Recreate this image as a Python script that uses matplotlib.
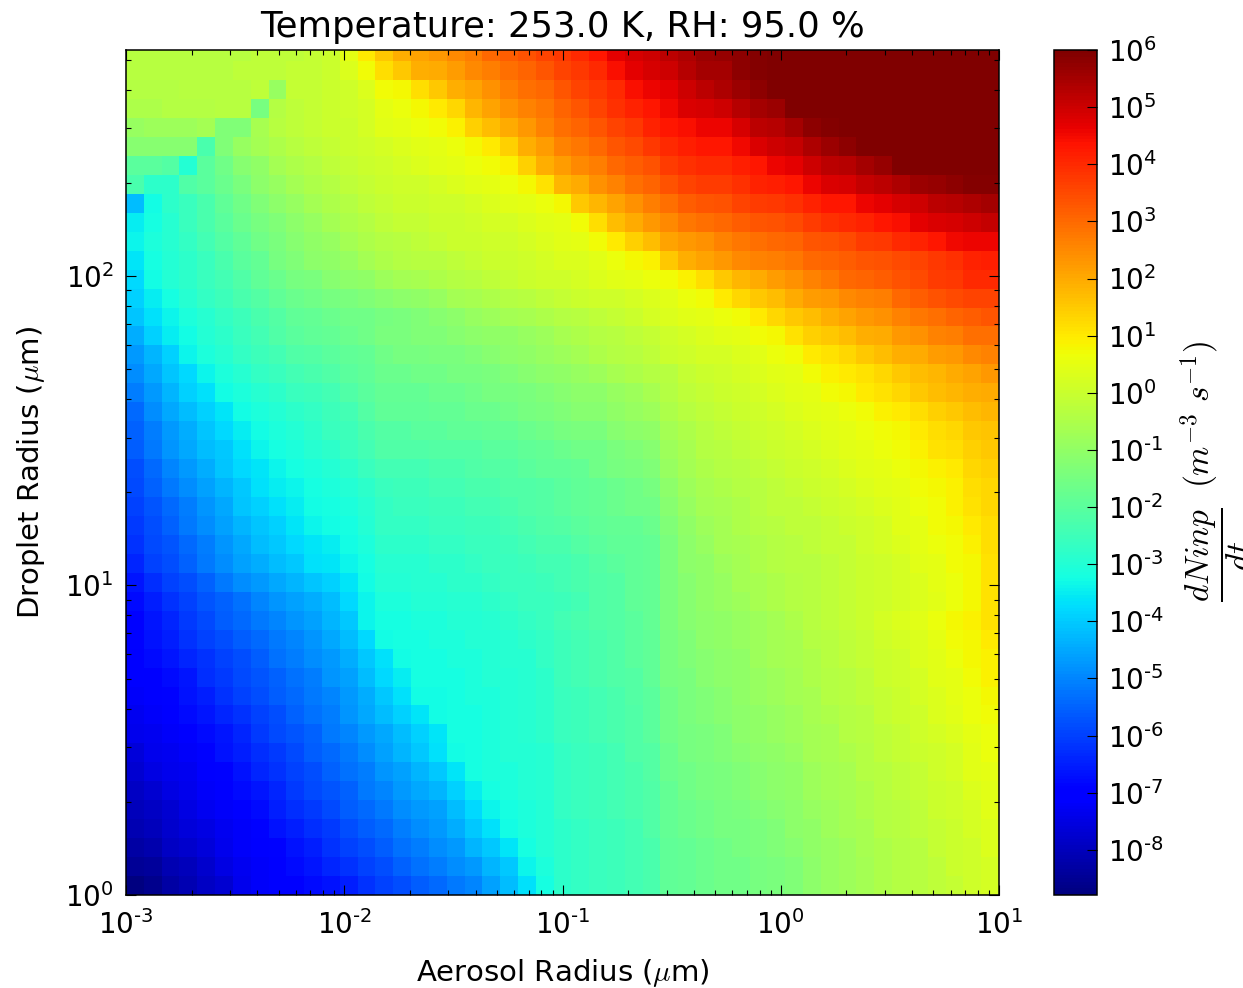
#!/usr/bin/python3

import matplotlib
matplotlib.use('Agg')
import matplotlib.pyplot as plt
from matplotlib.colors import LogNorm
import numpy as np

title = 'Temperature: 253.0 K, RH: 95.0 %'
x_ticks = [1e-3, 1e-2, 1e-1, 1e0, 1e1]
y_ticks = [1e0, 1e1, 1e2]
x_tick_labels = [r'$\mathdefault{10^{\text{-}3}}$', r'$\mathdefault{10^{\text{-}2}}$',
                 r'$\mathdefault{10^{\text{-}1}}$', r'$\mathdefault{10^{0}}$', r'$\mathdefault{10^{1}}$']
y_tick_labels = [r'$\mathdefault{10^{0}}$', r'$\mathdefault{10^{1}}$', r'$\mathdefault{10^{2}}$']
cbar_exponents = [-8, -7, -6, -5, -4, -3, -2, -1, 0, 1, 2, 3, 4, 5, 6]

# cell edges of the grid (49 x 49 cells, y axis cut at 537)
aerosol_edges = np.logspace(-3, 1, 50)
droplet_edges = np.logspace(0, 3, 50)[:46]

# log10 of the rate x 10, one row per droplet bin, bottom row first
k00 = [-88,-86,-83,-81,-79,-77,-74,-72,-71,-70,-68,-67,-65,-62,-60,-58,-56,-54,-52,-50,-46,-42,-37,-32,-28,-27,-26,-25,-24,-23,-19,-18,-17,-16,-16,-15,-14,-13,-11,-9,-8,-7,-5,-4,-3,-2,-1,1,2]
k01 = [-85,-84,-81,-80,-78,-75,-73,-72,-70,-68,-66,-64,-62,-60,-58,-55,-53,-51,-49,-47,-43,-40,-34,-31,-28,-27,-26,-25,-24,-23,-19,-18,-17,-16,-16,-15,-14,-13,-11,-9,-8,-7,-5,-4,-3,-2,0,1,2]
k02 = [-83,-82,-79,-78,-76,-74,-72,-71,-69,-67,-65,-62,-60,-58,-56,-53,-51,-49,-47,-43,-40,-36,-32,-30,-28,-27,-26,-25,-24,-23,-19,-18,-17,-16,-15,-14,-13,-12,-10,-9,-8,-6,-5,-4,-3,-1,0,1,3]
k03 = [-81,-80,-78,-76,-75,-73,-72,-69,-67,-65,-63,-61,-58,-56,-54,-51,-49,-47,-44,-40,-37,-33,-31,-30,-28,-27,-26,-25,-24,-22,-18,-17,-16,-15,-15,-14,-13,-11,-10,-8,-7,-6,-4,-3,-2,-1,0,2,3]
k04 = [-80,-79,-77,-75,-73,-72,-70,-68,-65,-63,-61,-59,-56,-54,-52,-49,-47,-46,-42,-38,-34,-32,-31,-30,-27,-26,-25,-24,-23,-22,-18,-17,-16,-15,-14,-13,-12,-11,-9,-8,-7,-5,-4,-3,-2,0,1,2,4]
k05 = [-79,-77,-75,-74,-72,-71,-68,-66,-64,-61,-59,-57,-55,-52,-50,-47,-45,-43,-39,-35,-32,-31,-30,-29,-27,-26,-25,-24,-23,-22,-18,-16,-15,-14,-13,-12,-11,-10,-8,-7,-6,-5,-3,-2,-1,0,1,3,4]
k06 = [-77,-75,-74,-73,-71,-69,-67,-64,-62,-60,-58,-55,-53,-51,-48,-46,-43,-40,-36,-32,-31,-31,-30,-29,-27,-26,-25,-24,-23,-21,-17,-16,-15,-14,-13,-12,-11,-10,-8,-7,-6,-4,-3,-2,-1,1,2,4,5]
k07 = [-76,-74,-73,-72,-69,-67,-65,-63,-61,-59,-56,-54,-52,-49,-46,-43,-40,-37,-33,-32,-31,-30,-30,-29,-27,-26,-25,-24,-22,-21,-17,-15,-14,-13,-12,-11,-10,-9,-7,-6,-5,-4,-2,-1,0,1,2,4,6]
k08 = [-74,-73,-72,-70,-68,-66,-64,-61,-59,-57,-55,-52,-50,-47,-45,-42,-39,-36,-32,-32,-31,-30,-29,-28,-26,-25,-24,-23,-22,-20,-16,-15,-14,-13,-11,-10,-9,-8,-7,-6,-4,-3,-2,-1,1,2,3,5,6]
k09 = [-73,-72,-71,-68,-66,-64,-62,-60,-58,-55,-53,-51,-48,-45,-42,-39,-36,-33,-32,-32,-31,-30,-29,-28,-26,-25,-24,-23,-22,-20,-16,-14,-13,-12,-11,-10,-9,-8,-6,-5,-4,-3,-1,0,1,3,4,6,7]
k10 = [-72,-71,-69,-67,-65,-62,-60,-58,-56,-54,-52,-50,-47,-44,-40,-37,-33,-33,-32,-31,-31,-30,-29,-28,-26,-25,-24,-23,-21,-20,-16,-14,-13,-12,-10,-9,-8,-7,-6,-4,-3,-2,-1,0,2,3,5,6,8]
k11 = [-71,-70,-68,-66,-63,-61,-59,-57,-55,-53,-51,-48,-46,-42,-38,-35,-32,-32,-32,-31,-30,-30,-29,-28,-25,-24,-23,-22,-21,-19,-15,-14,-12,-11,-10,-9,-8,-7,-5,-4,-3,-2,0,1,2,4,5,7,9]
k12 = [-70,-68,-66,-64,-62,-60,-58,-56,-53,-51,-49,-47,-44,-40,-37,-33,-32,-32,-31,-31,-30,-29,-29,-27,-25,-24,-23,-22,-20,-19,-15,-13,-12,-11,-10,-8,-7,-6,-5,-3,-2,-1,0,1,3,4,6,8,9]
k13 = [-69,-67,-65,-62,-60,-58,-56,-54,-52,-50,-48,-45,-42,-38,-33,-32,-32,-31,-31,-30,-30,-29,-28,-27,-25,-24,-23,-22,-20,-19,-15,-13,-11,-10,-9,-8,-7,-6,-4,-3,-2,-1,1,2,3,5,7,8,10]
k14 = [-69,-66,-64,-61,-59,-56,-54,-52,-50,-48,-46,-43,-40,-34,-32,-32,-31,-31,-30,-30,-29,-28,-27,-26,-24,-23,-22,-21,-20,-18,-14,-12,-11,-10,-9,-8,-7,-5,-3,-2,-1,0,2,3,4,6,8,9,11]
k15 = [-68,-65,-62,-60,-57,-55,-53,-50,-48,-46,-44,-42,-38,-34,-31,-31,-30,-30,-29,-29,-28,-27,-26,-26,-25,-24,-22,-21,-19,-18,-14,-12,-10,-9,-8,-6,-5,-4,-3,-2,-1,0,1,2,3,4,6,8,11]
k16 = [-66,-63,-60,-58,-55,-52,-49,-47,-45,-43,-41,-39,-36,-33,-30,-30,-29,-29,-28,-28,-27,-26,-26,-25,-24,-23,-22,-21,-19,-18,-14,-12,-10,-9,-7,-6,-5,-4,-3,-2,-1,0,1,2,3,5,6,8,11]
k17 = [-64,-60,-58,-55,-52,-49,-46,-44,-42,-40,-37,-36,-34,-32,-29,-29,-29,-28,-28,-27,-26,-26,-25,-24,-24,-23,-21,-20,-19,-18,-14,-11,-10,-8,-7,-5,-4,-3,-3,-2,-1,0,1,2,4,5,7,8,11]
k18 = [-62,-59,-57,-54,-51,-48,-45,-42,-40,-38,-36,-35,-33,-31,-28,-28,-28,-27,-27,-26,-26,-25,-24,-23,-23,-21,-20,-19,-19,-18,-14,-11,-9,-7,-6,-5,-4,-3,-2,-1,-1,1,2,3,5,6,7,9,12]
k19 = [-61,-58,-55,-52,-49,-46,-43,-41,-39,-36,-34,-33,-32,-30,-27,-27,-27,-26,-26,-25,-25,-24,-23,-22,-21,-20,-19,-18,-18,-17,-13,-10,-8,-7,-5,-4,-3,-2,-2,-1,0,1,2,4,5,7,8,10,12]
k20 = [-60,-57,-54,-51,-48,-45,-41,-39,-37,-35,-33,-32,-31,-29,-27,-26,-26,-25,-25,-24,-24,-23,-22,-21,-20,-19,-18,-17,-16,-16,-12,-9,-7,-6,-5,-3,-2,-2,-1,0,1,2,3,4,6,7,9,11,13]
k21 = [-59,-55,-52,-49,-46,-43,-40,-37,-35,-34,-32,-31,-30,-28,-26,-25,-25,-24,-24,-23,-23,-22,-22,-21,-20,-19,-18,-17,-16,-15,-11,-8,-6,-5,-4,-3,-2,-1,0,1,2,3,4,5,7,8,9,12,13]
k22 = [-58,-54,-50,-47,-44,-41,-38,-36,-34,-32,-31,-30,-28,-26,-24,-24,-24,-23,-23,-22,-21,-21,-20,-19,-19,-18,-16,-15,-14,-13,-9,-7,-5,-4,-3,-2,-1,0,1,2,3,4,5,6,8,9,10,13,14]
k23 = [-56,-52,-48,-45,-42,-40,-37,-34,-32,-31,-29,-28,-26,-24,-22,-22,-22,-21,-21,-21,-20,-20,-19,-18,-17,-16,-16,-14,-13,-12,-8,-6,-4,-3,-2,-1,0,1,2,3,4,5,6,7,9,11,12,14,15]
k24 = [-55,-51,-47,-44,-41,-38,-35,-33,-31,-30,-28,-26,-25,-23,-21,-21,-20,-20,-19,-19,-18,-18,-17,-16,-15,-14,-14,-12,-11,-10,-7,-5,-3,-2,-1,0,1,2,3,4,5,6,7,8,10,12,13,15,16]
k25 = [-54,-49,-45,-42,-39,-36,-33,-31,-30,-28,-27,-25,-24,-21,-19,-19,-19,-18,-18,-17,-17,-16,-15,-14,-13,-12,-12,-10,-9,-8,-5,-3,-2,-1,0,1,2,3,4,5,6,7,9,10,12,14,15,17,18]
k26 = [-51,-47,-43,-39,-37,-33,-31,-29,-28,-26,-25,-24,-22,-20,-18,-18,-18,-17,-17,-16,-15,-15,-14,-13,-12,-11,-11,-9,-8,-6,-4,-2,-1,0,1,2,3,4,5,7,8,10,11,13,15,17,18,19,20]
k27 = [-49,-45,-41,-38,-34,-31,-29,-27,-26,-24,-23,-22,-20,-19,-17,-17,-16,-16,-15,-15,-14,-13,-12,-11,-10,-9,-8,-6,-5,-4,-3,-1,0,1,2,3,4,5,7,9,10,11,13,15,17,18,20,21,23]
k28 = [-47,-43,-39,-34,-31,-29,-27,-25,-24,-22,-21,-20,-19,-18,-16,-15,-15,-14,-14,-13,-12,-11,-10,-9,-8,-7,-5,-4,-3,-2,0,1,2,2,3,4,6,7,10,11,13,15,17,19,20,22,23,25,26]
k29 = [-44,-39,-35,-33,-30,-28,-26,-24,-22,-20,-19,-18,-17,-16,-14,-14,-13,-13,-12,-11,-10,-10,-9,-8,-6,-5,-4,-3,-2,-1,1,2,3,4,5,7,8,11,14,15,17,19,20,23,24,26,27,29,29]
k30 = [-41,-37,-34,-31,-29,-27,-25,-23,-21,-19,-18,-17,-16,-16,-15,-14,-13,-12,-11,-9,-8,-7,-6,-5,-4,-3,-2,-1,0,2,3,4,5,6,7,10,13,15,17,19,21,23,24,26,28,29,31,32,33]
k31 = [-39,-35,-32,-29,-27,-25,-23,-21,-19,-17,-16,-15,-14,-13,-12,-11,-10,-9,-7,-6,-5,-4,-3,-2,-1,0,1,1,2,3,4,6,7,10,13,15,17,20,22,23,25,26,27,30,32,34,35,36,36]
k32 = [-38,-33,-30,-28,-26,-24,-22,-19,-17,-15,-14,-12,-11,-10,-8,-7,-6,-5,-4,-3,-2,-1,0,1,1,2,3,4,5,6,7,9,12,15,18,20,22,24,26,28,30,31,32,34,35,37,38,40,40]
k33 = [-36,-32,-30,-28,-26,-23,-20,-18,-15,-13,-11,-10,-9,-7,-5,-4,-3,-3,-2,-1,0,0,1,2,3,3,4,6,8,9,15,19,21,23,25,26,27,28,30,31,32,33,34,35,36,38,39,41,42]
k34 = [-34,-31,-29,-27,-24,-21,-19,-16,-14,-12,-10,-9,-7,-5,-4,-3,-2,-1,0,0,1,1,2,3,4,5,7,10,14,17,21,23,24,26,28,29,30,31,33,34,35,37,38,40,41,43,45,46,46]
k35 = [-35,-32,-29,-26,-23,-20,-17,-15,-13,-11,-9,-7,-5,-4,-2,-1,-1,0,0,1,2,2,3,4,5,7,12,17,20,23,25,28,29,30,32,33,34,35,37,39,40,41,43,44,47,48,49,50,51]
k36 = [-42,-33,-28,-26,-23,-19,-16,-13,-11,-9,-7,-5,-4,-2,-1,0,0,1,1,2,3,4,5,6,8,15,18,21,24,27,29,32,33,34,36,37,38,39,41,43,43,46,47,49,50,52,53,54,55]
k37 = [-23,-28,-28,-22,-20,-17,-14,-11,-9,-7,-5,-4,-2,-1,0,1,1,2,3,4,5,6,8,11,18,20,24,26,29,31,34,36,37,37,39,41,42,43,46,48,49,51,52,54,56,57,58,59,59]
k38 = [-20,-20,-21,-30,-20,-16,-12,-10,-7,-5,-4,-2,-1,0,1,2,3,4,5,6,7,9,14,19,22,25,27,30,32,34,37,39,40,40,42,43,46,47,50,52,53,55,57,60,60,60,60,60,60]
k39 = [-12,-12,-12,-12,-23,-13,-9,-7,-5,-3,-2,-1,0,1,2,3,4,5,6,8,10,14,19,22,26,28,30,33,35,38,40,42,43,43,45,48,50,51,54,56,58,60,60,60,60,60,60,60,60]
k40 = [-9,-8,-8,-8,-7,-13,-13,-6,-3,-2,-1,0,0,2,4,5,6,7,9,14,17,20,23,26,29,31,33,36,38,41,43,44,46,46,49,52,53,55,58,59,60,60,60,60,60,60,60,60,60]
k41 = [-5,-5,-4,-4,-4,-3,-3,-15,-4,-2,-1,0,1,2,5,6,8,10,13,18,21,24,26,28,31,33,36,39,41,43,45,48,49,50,53,55,56,60,60,60,60,60,60,60,60,60,60,60,60]
k42 = [-4,-4,-4,-3,-3,-3,-3,-2,-9,-1,-1,0,1,3,7,8,12,15,19,21,24,27,29,30,33,36,38,40,44,46,47,50,52,54,56,58,60,60,60,60,60,60,60,60,60,60,60,60,60]
k43 = [-3,-3,-3,-3,-3,-3,-2,-2,-2,-1,-1,0,3,7,12,15,19,20,22,25,27,29,31,33,36,38,40,44,47,49,50,53,55,55,58,59,60,60,60,60,60,60,60,60,60,60,60,60,60]
k44 = [-3,-3,-3,-3,-3,-3,-3,-2,-2,-2,-1,0,5,10,15,19,21,23,25,27,30,32,34,36,38,40,43,47,49,50,52,54,56,57,58,59,60,60,60,60,60,60,60,60,60,60,60,60,60]

rows = [k00, k01, k02, k03, k04, k05, k06, k07, k08, k09, k10, k11, k12, k13, k14, k15,
        k16, k17, k18, k19, k20, k21, k22, k23, k24, k25, k26, k27, k28, k29, k30, k31,
        k32, k33, k34, k35, k36, k37, k38, k39, k40, k41, k42, k43, k44]
rates = 10.0 ** (np.array(rows) / 10.0)

W, H = 1243, 988
fig = plt.figure(figsize=(W / 100, H / 100), dpi=100)
ax = fig.add_axes([126 / W, 1 - 895 / H, 873 / W, 845 / H])
cax = fig.add_axes([1054 / W, 1 - 895 / H, 43 / W, 845 / H])

mesh = ax.pcolormesh(aerosol_edges, droplet_edges, rates, cmap='jet',
                     norm=LogNorm(vmin=10 ** -8.79, vmax=1e6), shading='flat')
ax.set_xscale('log')
ax.set_yscale('log')
ax.set_xlim(1e-3, 1e1)
ax.set_ylim(1, 537)
ax.set_xticks(x_ticks)
ax.set_xticklabels(x_tick_labels)
ax.set_yticks(y_ticks)
ax.set_yticklabels(y_tick_labels)
ax.tick_params(which='both', direction='in', top=True, right=True, width=0.8, labelsize=20)
ax.tick_params(axis='x', which='both', pad=11)
ax.tick_params(axis='y', which='both', pad=9)
ax.tick_params(which='major', length=7.2)
ax.tick_params(which='minor', length=3.6)
ax.set_title(title, fontsize=25.5, pad=9)
ax.set_xlabel(r'Aerosol Radius ($\mu$m)', fontsize=21, labelpad=12, math_fontfamily='cm')
ax.set_ylabel(r'Droplet Radius ($\mu$m)', fontsize=21, labelpad=13, math_fontfamily='cm')

cbar = fig.colorbar(mesh, cax=cax)
cbar.set_ticks([10.0 ** e for e in cbar_exponents])
cbar.set_ticklabels([r'$\mathdefault{10^{%s}}$' % (r'\text{-}%d' % -e if e < 0 else str(e)) for e in cbar_exponents])
cbar.ax.minorticks_off()
cbar.ax.tick_params(direction='in', length=7.2, width=0.8, labelsize=20, pad=8)
# the fraction runs off the right edge in the reference too
fig.text(1218 / W, 1 - 555 / H, r'$\dfrac{dNinp}{dt}$', rotation=90,
         fontsize=24, math_fontfamily='cm', ha='center', va='center')
fig.text(1200 / W, 1 - 414 / H, r'$(m^{-3}\ s^{-1})$', rotation=90,
         fontsize=24, math_fontfamily='cm', ha='center', va='center')

for a in (ax, cbar.ax):
    for s in a.spines.values():
        s.set_linewidth(1.1)

fig.savefig('out.png', dpi=100)
